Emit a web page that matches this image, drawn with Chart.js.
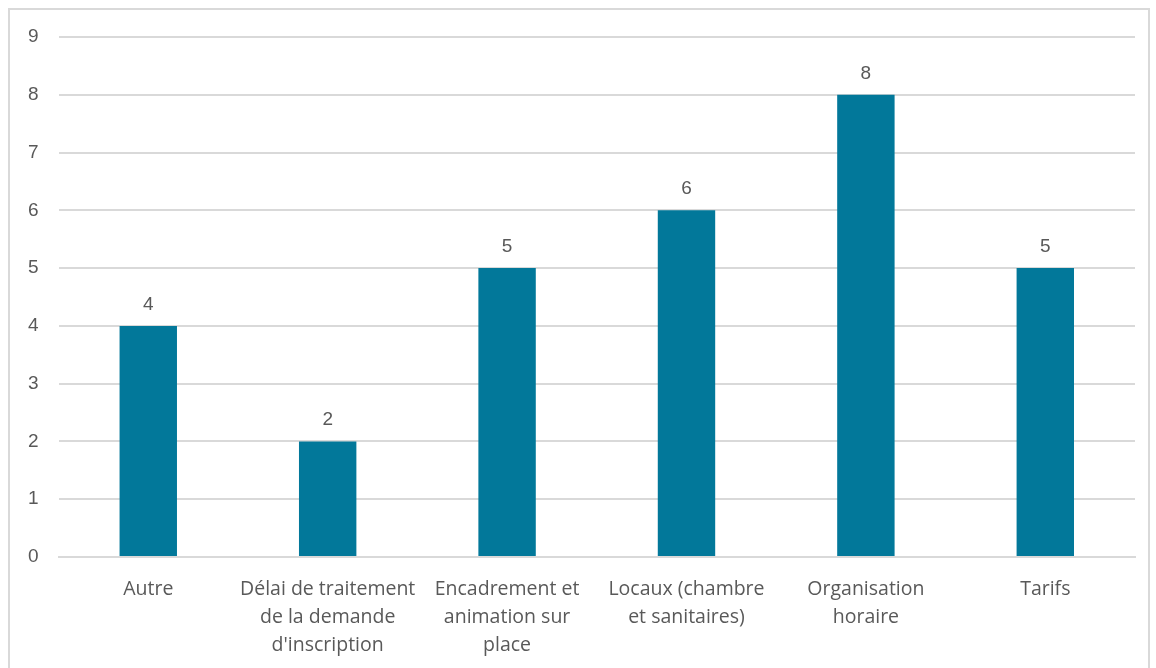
<!DOCTYPE html>
<html>
<head>
<meta charset="utf-8">
<script src="https://cdn.jsdelivr.net/npm/chart.js@4"></script>
<style>
    html, body { margin: 0; padding: 0; background: #fff; overflow: hidden; }
    #frame {
        position: absolute; left: 8px; top: 8px;
        width: 1138px; height: 700px;
        border: 2px solid #d9d9d9;
    }
    #wrap { position: absolute; left: 0; top: 0; width: 1156px; height: 668px; }
</style>
</head>
<body>
<div id="frame"></div>
<div id="wrap"><canvas id="chart"></canvas></div>
<script>
// --- data ---
const categories = [
    ['Autre'],
    ['Délai de traitement', 'de la demande', "d'inscription"],
    ['Encadrement et', 'animation sur', 'place'],
    ['Locaux (chambre', 'et sanitaires)'],
    ['Organisation', 'horaire'],
    ['Tarifs']
];
const counts = [4, 2, 5, 6, 8, 5];

const textColor = '#595959';
const numFont = "'Liberation Sans', Arial, sans-serif";
const labelFont = "'Open Sans', sans-serif";

// draws the value above each bar
const valueLabels = {
    id: 'valueLabels',
    afterDatasetsDraw(chart) {
        const ctx = chart.ctx;
        const meta = chart.getDatasetMeta(0);
        ctx.save();
        ctx.fillStyle = textColor;
        ctx.font = '19px ' + numFont;
        ctx.textAlign = 'center';
        ctx.textBaseline = 'bottom';
        meta.data.forEach((bar, i) => {
            ctx.fillText(String(counts[i]), bar.x, bar.y - 12);
        });
        ctx.restore();
    }
};

const ctx = document.getElementById('chart').getContext('2d');
new Chart(ctx, {
    type: 'bar',
    data: {
        labels: categories,
        datasets: [{
            data: counts,
            backgroundColor: '#02789a',
            barPercentage: 0.32,
            categoryPercentage: 1
        }]
    },
    options: {
        responsive: true,
        maintainAspectRatio: false,
        animation: false,
        layout: { padding: { left: 8, right: 21, top: 37, bottom: 8 } },
        plugins: {
            legend: { display: false },
            tooltip: { enabled: false }
        },
        scales: {
            x: {
                grid: { display: false, drawTicks: false },
                border: { display: true, color: '#d9d9d9', width: 2 },
                ticks: {
                    color: textColor,
                    font: { family: labelFont, size: 19.5, lineHeight: 1.44 },
                    padding: 18,
                    maxRotation: 0,
                    autoSkip: false
                },
                afterFit(scale) { scale.height = 103; }
            },
            y: {
                min: 0,
                max: 9,
                grid: { color: '#d9d9d9', lineWidth: 2, drawTicks: false },
                border: { display: false },
                ticks: {
                    stepSize: 1,
                    color: textColor,
                    font: { family: numFont, size: 19 },
                    padding: 20
                }
            }
        }
    },
    plugins: [valueLabels]
});
</script>
</body>
</html>
